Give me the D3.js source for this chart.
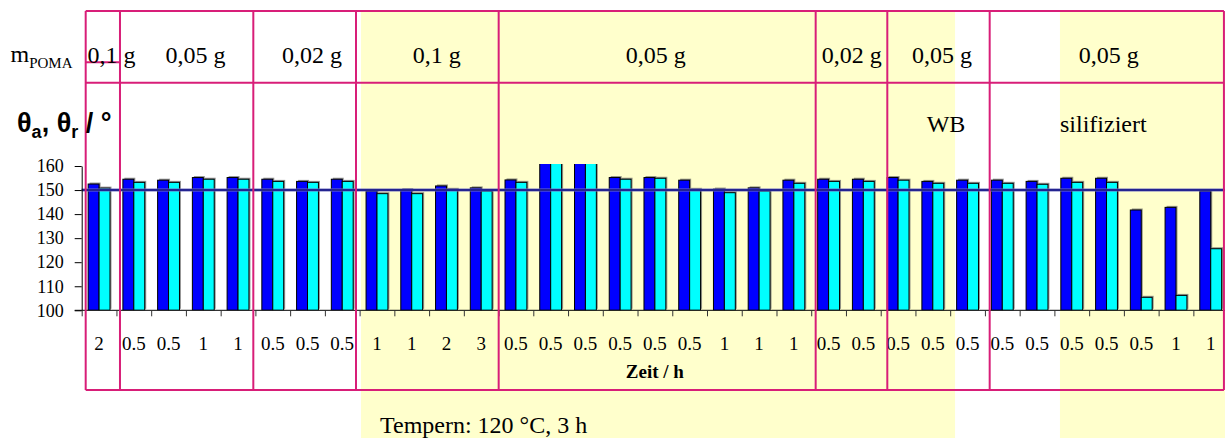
<!DOCTYPE html>
<html>
<head>
<meta charset="utf-8">
<script src="https://cdn.jsdelivr.net/npm/d3@7"></script>
<style>
  body { margin: 0; background: #fff; }
  svg { display: block; }
</style>
</head>
<body>
<svg width="1225" height="438"></svg>
<script>
// data
var timeLabels = ["2", "0.5", "0.5", "1", "1", "0.5", "0.5", "0.5", "1", "1", "2", "3",
  "0.5", "0.5", "0.5", "0.5", "0.5", "0.5", "1", "1", "1", "0.5", "0.5",
  "0.5", "0.5", "0.5", "0.5", "0.5", "0.5", "0.5", "0.5", "1", "1"];
var thetaA = [152.5, 154.5, 154.1, 155.2, 155.2, 154.5, 153.6, 154.5, 149.6, 150.2, 151.7, 150.9,
  154.2, 162, 162, 155.2, 155.2, 154.1, 150.4, 150.9, 154.1, 154.5, 154.5,
  155.2, 153.6, 154.1, 154.1, 153.6, 154.9, 154.9, 141.7, 142.8, 149.6];
var thetaR = [150.8, 153.2, 153.2, 154.5, 154.5, 153.6, 153.2, 153.6, 148.5, 148.5, 150.3, 149.6,
  153.2, 162, 162, 154.5, 154.9, 150.3, 148.9, 149.6, 152.8, 153.6, 153.6,
  154.1, 152.8, 152.8, 152.8, 152.4, 153.2, 153.2, 105.4, 106.2, 125.6];
var yTicks = [100, 110, 120, 130, 140, 150, 160];
var refLine = 150;
var massLabels = ["0,1 g", "0,05 g", "0,02 g", "0,1 g", "0,05 g", "0,02 g", "0,05 g", "0,05 g"];

// layout (in category units along the x axis)
var tableEdges = [0.115, 1.102, 4.94, 7.896, 12.003, 21.128, 23.19, 26.137, 32.88];
var massLabelPos = [0.858, 3.276, 6.629, 10.219, 16.526, 22.165, 24.764, 29.562];
var yellowBands = [[8.04, 25.14], [28.16, 33.3]];

var svg = d3.select("svg"),
    width = +svg.attr("width"),
    height = +svg.attr("height");

var serif = "'Liberation Serif', 'Times New Roman', serif",
    sans = "'Liberation Sans', Arial, sans-serif",
    pink = "#d81e78";

var plotLeft = 81.7, plotRight = 1228.1, plotBottom = 310.3, plotTop = 166;
var tableTop = 11, tableMid = 82.7, tableBottom = 390;

var x0 = d3.scaleBand().domain(d3.range(timeLabels.length)).range([plotLeft, plotRight]).padding(0);
var x1 = d3.scaleBand().domain(["a", "r"]).range([0, x0.bandwidth()]).paddingInner(0).paddingOuter(0.59);
var xi = d3.scaleLinear().domain([0, timeLabels.length]).range([plotLeft, plotRight]);
var y = d3.scaleLinear().domain([100, 160]).range([plotBottom, plotTop]);

// yellow backgrounds
svg.selectAll(".band").data(yellowBands)
  .enter().append("rect")
    .attr("x", function(d) { return xi(d[0]); })
    .attr("y", tableTop)
    .attr("width", function(d) { return Math.min(xi(d[1]), width) - xi(d[0]); })
    .attr("height", height - tableTop)
    .attr("fill", "#ffffcc");

svg.append("clipPath").attr("id", "plotclip")
  .append("rect")
    .attr("x", plotLeft).attr("y", y(160) - 2)
    .attr("width", width - plotLeft).attr("height", plotBottom - y(160) + 2);

var series = [{key: "a", values: thetaA, color: "#0000ff"},
              {key: "r", values: thetaR, color: "#00ffff"}];

var bars = svg.append("g").attr("clip-path", "url(#plotclip)");

series.forEach(function(s) {
  var g = bars.append("g");
  // shadow
  g.selectAll(".shadow").data(s.values)
    .enter().append("rect")
      .attr("x", function(d, i) { return x0(i) + x1(s.key) + 1.5; })
      .attr("y", function(d) { return y(d) - 1.5; })
      .attr("width", x1.bandwidth())
      .attr("height", function(d) { return plotBottom - y(d); })
      .attr("fill", "#666")
      .attr("opacity", 0.7);
  g.selectAll(".bar").data(s.values)
    .enter().append("rect")
      .attr("x", function(d, i) { return x0(i) + x1(s.key); })
      .attr("y", function(d) { return y(d); })
      .attr("width", x1.bandwidth())
      .attr("height", function(d) { return plotBottom - y(d); })
      .attr("fill", s.color)
      .attr("stroke", "#000")
      .attr("stroke-width", 1);
});

// reference line at 150
svg.append("line")
    .attr("x1", plotLeft).attr("x2", width)
    .attr("y1", y(refLine)).attr("y2", y(refLine))
    .attr("stroke", "#7070c0").attr("stroke-width", 3);
svg.append("line")
    .attr("x1", plotLeft).attr("x2", width)
    .attr("y1", y(refLine)).attr("y2", y(refLine))
    .attr("stroke", "#0a0a80").attr("stroke-width", 1.5);

// y axis
var yAxis = svg.append("g")
    .attr("transform", "translate(" + plotLeft + ",0)")
    .call(d3.axisLeft(y).tickValues(yTicks).tickSize(7).tickSizeOuter(0).tickPadding(11));
yAxis.attr("font-family", null);
yAxis.selectAll("text").style("font-family", serif).style("font-size", "18px").attr("fill", "#000");

// x axis: ticks at category boundaries
var xAxis = svg.append("g")
    .attr("transform", "translate(0," + plotBottom + ")")
    .call(d3.axisBottom(xi).tickValues(d3.range(timeLabels.length + 1)).tickSize(6).tickSizeOuter(0).tickFormat(""));
xAxis.select(".domain").attr("d", "M" + (plotLeft - 7) + ",0H" + plotRight);
xAxis.selectAll("line").attr("stroke", "#333");

var xLabels = svg.append("g")
    .attr("transform", "translate(0," + plotBottom + ")")
    .call(d3.axisBottom(x0).tickSize(0).tickPadding(26).tickFormat(function(i) { return timeLabels[i]; }));
xLabels.attr("font-family", null);
xLabels.select(".domain").remove();
xLabels.selectAll("text").style("font-family", serif).style("font-size", "19px").attr("fill", "#000");

svg.append("text")
    .attr("x", (plotLeft + plotRight) / 2).attr("y", 378.3)
    .attr("text-anchor", "middle")
    .style("font-family", serif).style("font-size", "19px").style("font-weight", "bold")
    .text("Zeit / h");

// table overlay
var table = svg.append("g").attr("stroke", pink).attr("stroke-width", 2).attr("fill", "none");
table.selectAll(".vline").data(tableEdges)
  .enter().append("line")
    .attr("x1", function(d) { return xi(d); }).attr("x2", function(d) { return xi(d); })
    .attr("y1", tableTop).attr("y2", tableBottom);
[tableTop, tableMid, tableBottom].forEach(function(yy) {
  table.append("line")
      .attr("x1", xi(tableEdges[0])).attr("x2", xi(tableEdges[tableEdges.length - 1]))
      .attr("y1", yy).attr("y2", yy);
});
table.append("line")
    .attr("x1", xi(tableEdges[0])).attr("x2", xi(tableEdges[1]))
    .attr("y1", 62.3).attr("y2", 62.3);

// mass labels
svg.selectAll(".mass").data(massLabels)
  .enter().append("text")
    .attr("x", function(d, i) { return xi(massLabelPos[i]); })
    .attr("y", 63.3)
    .attr("text-anchor", "middle")
    .style("font-family", serif).style("font-size", "24px")
    .text(function(d) { return d; });

var mp = svg.append("text").attr("x", 10.5).attr("y", 61.7)
    .style("font-family", serif).style("font-size", "24px");
mp.append("tspan").text("m");
mp.append("tspan").attr("dy", 6).style("font-size", "15px").text("POMA");

var th = svg.append("text").attr("x", 17).attr("y", 132)
    .style("font-family", sans).style("font-size", "27px").style("font-weight", "bold");
th.append("tspan").text("θ");
th.append("tspan").attr("dy", 6).style("font-size", "18px").text("a");
th.append("tspan").attr("dy", -6).text(", θ");
th.append("tspan").attr("dy", 6).style("font-size", "18px").text("r");
th.append("tspan").attr("dy", -6).text(" / °");

svg.append("text").attr("x", 926.7).attr("y", 131.7)
    .style("font-family", serif).style("font-size", "24px").text("WB");
svg.append("text").attr("x", 1060).attr("y", 131.7)
    .style("font-family", serif).style("font-size", "24px").text("silifiziert");

svg.append("text").attr("x", 380).attr("y", 433)
    .style("font-family", serif).style("font-size", "24px").text("Tempern: 120 °C, 3 h");
</script>
</body>
</html>
